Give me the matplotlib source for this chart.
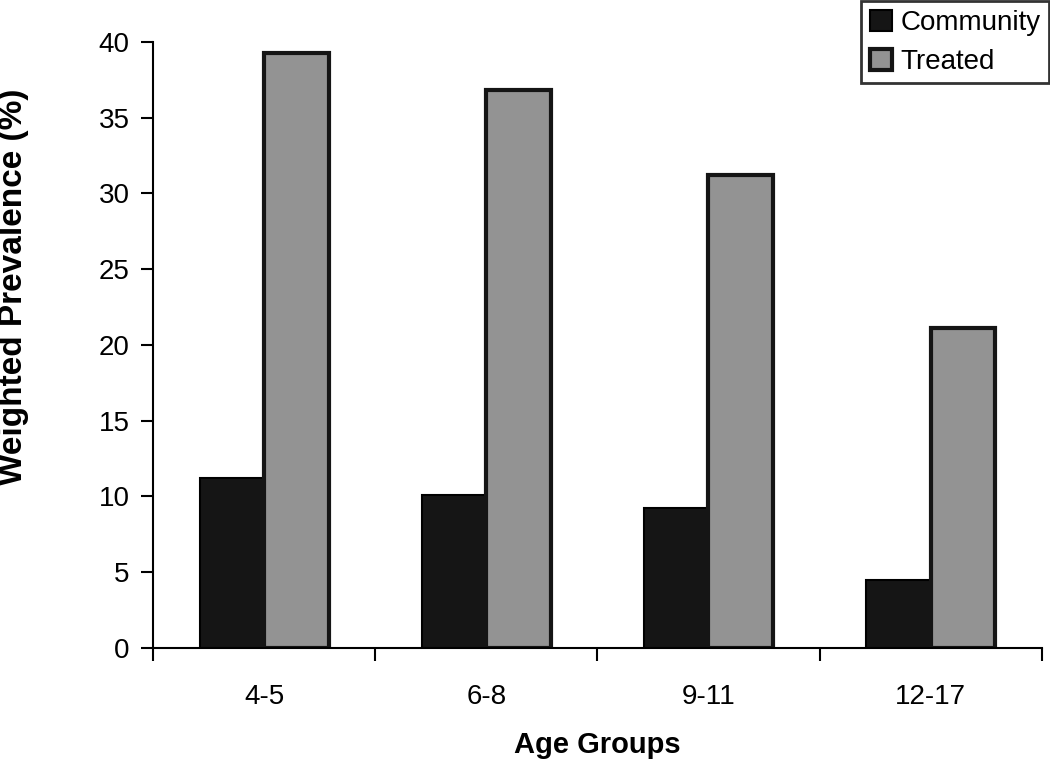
import matplotlib.pyplot as plt
import numpy as np

plt.rcParams.update({
    'font.family': ['Liberation Sans', 'DejaVu Sans'],
})

age_groups = ["4-5", "6-8", "9-11", "12-17"]
community = [11.2, 10.1, 9.2, 4.5]
treated = [39.3, 36.8, 31.2, 21.1]

fig = plt.figure(figsize=(10.5, 7.63), dpi=100)
ax = fig.add_axes([0.146, 0.151, 0.846, 0.794])

fontsize = 20
bar_width = 0.29
x = np.arange(len(age_groups))

ax.bar(x - bar_width / 2, community, width=bar_width, color='#151515',
       edgecolor='black', linewidth=1.5, label="Community")
ax.bar(x + bar_width / 2, treated, width=bar_width, color='#939393',
       edgecolor='#151515', linewidth=3, label="Treated")

ax.set_xlim(-0.5, len(age_groups) - 0.5)
ax.set_ylim(0, 40)
ax.set_yticks(np.arange(0, 41, 5))
ax.tick_params(axis='y', labelsize=fontsize, length=9, width=1.5, direction='out', pad=8)

# category labels centred, tick marks at group boundaries
ax.set_xticks(x)
ax.set_xticklabels(age_groups, fontsize=fontsize)
ax.tick_params(axis='x', length=0, pad=26)
ax.set_xticks(np.arange(-0.5, len(age_groups), 1), minor=True)
ax.tick_params(axis='x', which='minor', length=9, width=1.5, direction='out')

for side in ['top', 'right']:
    ax.spines[side].set_visible(False)
for side in ['left', 'bottom']:
    ax.spines[side].set_linewidth(1.5)

ax.set_xlabel('Age Groups', fontsize=21, fontweight='bold', va='center')
ax.xaxis.set_label_coords(0.5, -0.16)
ax.set_ylabel('Weighted Prevalence (%)', fontsize=24, fontweight='bold', va='center')
ax.yaxis.set_label_coords(-0.157, 0.596)

leg = fig.legend(loc='upper right', bbox_to_anchor=(1.0, 1.0), fontsize=fontsize,
                 frameon=True, fancybox=False, edgecolor='black',
                 handlelength=0.8, handleheight=0.8, handletextpad=0.3,
                 borderpad=0.3, labelspacing=0.45, borderaxespad=0.05)
leg.get_frame().set_linewidth(2)

plt.savefig("out.png", dpi=100)
